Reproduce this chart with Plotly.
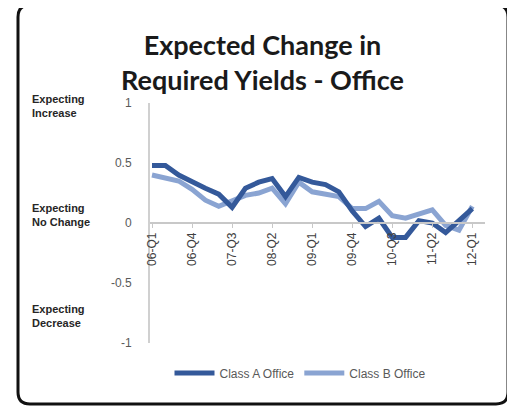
import plotly.graph_objects as go

quarters = []
for yr in range(6, 13):
    for q in range(1, 5):
        quarters.append(f"{yr:02d}-Q{q}")
quarters = quarters[:25]  # 06-Q1 .. 12-Q1

class_a = [0.48, 0.48, 0.40, 0.34, 0.29, 0.24, 0.13, 0.29, 0.34, 0.37, 0.22, 0.38, 0.34,
           0.32, 0.26, 0.10, -0.03, 0.04, -0.12, -0.12, 0.02, 0.00, -0.08, 0.02, 0.12]
class_b = [0.40, 0.38, 0.35, 0.28, 0.19, 0.14, 0.18, 0.23, 0.25, 0.29, 0.16, 0.34, 0.26,
           0.24, 0.22, 0.12, 0.12, 0.18, 0.06, 0.04, 0.07, 0.11, -0.02, -0.06, 0.14]

y_ticks = [-1, -0.5, 0, 0.5, 1]
y_tick_text = ["-1", "-0.5", "0", "0.5", "1"]
side_labels = ["Expecting<br>Increase", "Expecting<br>No Change", "Expecting<br>Decrease"]
side_label_values = [0.975, 0.067, -0.775]

OFF = 8  # page body margin
W, H = 507, 402
# plot area in window pixels
L, R, T, B = 150, 485, 103, 343


def px(x):
    return (x - L) / (R - L)


def py(y):
    return (B - y) / (B - T)


fig = go.Figure()
fig.add_trace(go.Scatter(x=quarters, y=class_b, mode="lines", name="Class B Office",
                         line=dict(color="#8AA4D2", width=5), legendrank=2))
fig.add_trace(go.Scatter(x=quarters, y=class_a, mode="lines", name="Class A Office",
                         line=dict(color="#34599A", width=5), legendrank=1))

# rounded outer border
x0, x1, y0, y1, r = 18, 508, 5, 404, 12
path = (f"M {px(x0 + r)},{py(y0)} L {px(x1 - r)},{py(y0)} Q {px(x1)},{py(y0)} {px(x1)},{py(y0 + r)} "
        f"L {px(x1)},{py(y1 - r)} Q {px(x1)},{py(y1)} {px(x1 - r)},{py(y1)} "
        f"L {px(x0 + r)},{py(y1)} Q {px(x0)},{py(y1)} {px(x0)},{py(y1 - r)} "
        f"L {px(x0)},{py(y0 + r)} Q {px(x0)},{py(y0)} {px(x0 + r)},{py(y0)} Z")
fig.add_shape(type="path", path=path, xref="paper", yref="paper",
              line=dict(color="#111111", width=3), layer="above")

for txt, val in zip(side_labels, side_label_values):
    fig.add_annotation(text=txt, x=px(30), xref="paper", xanchor="left", align="left",
                       y=val, yref="y", yanchor="middle", showarrow=False,
                       font=dict(family="Liberation Sans", size=11, color="#262626", weight="bold"))

fig.update_layout(
    width=W, height=H,
    margin=dict(l=L - OFF, r=W + OFF - R, t=T - OFF, b=H + OFF - B, pad=0),
    paper_bgcolor="white", plot_bgcolor="white",
    title=dict(text="Expected Change in<br>Required Yields - Office",
               x=(262.5 - OFF) / W, xref="container", xanchor="center",
               y=(H - (55 - OFF)) / H, yref="container", yanchor="middle",
               font=dict(family="Lato", size=27, color="#1a1a1a", weight="bold")),
    showlegend=True,
    legend=dict(orientation="h", x=px(300), xanchor="center", y=py(373), yanchor="middle",
                font=dict(family="Liberation Sans", size=12, color="#595959"),
                itemwidth=40, bgcolor="rgba(0,0,0,0)"),
    xaxis=dict(type="category", range=[-0.15, 24.95], tickmode="linear", tick0=0, dtick=3,
               tickangle=-90, anchor="free", position=0.5,
               showline=True, linecolor="#c8c8c8", linewidth=1.5,
               ticks="outside", ticklen=4, tickcolor="#c8c8c8",
               showgrid=False, zeroline=False,
               tickfont=dict(family="Liberation Sans", size=12, color="#404040")),
    yaxis=dict(range=[-1, 1], tickvals=y_ticks, ticktext=y_tick_text,
               showline=True, linecolor="#d0d0d0", linewidth=2,
               ticks="", showgrid=False, zeroline=False, ticklabelstandoff=14,
               tickfont=dict(family="Liberation Sans", size=12, color="#595959")),
)

fig.write_html("out.html")
